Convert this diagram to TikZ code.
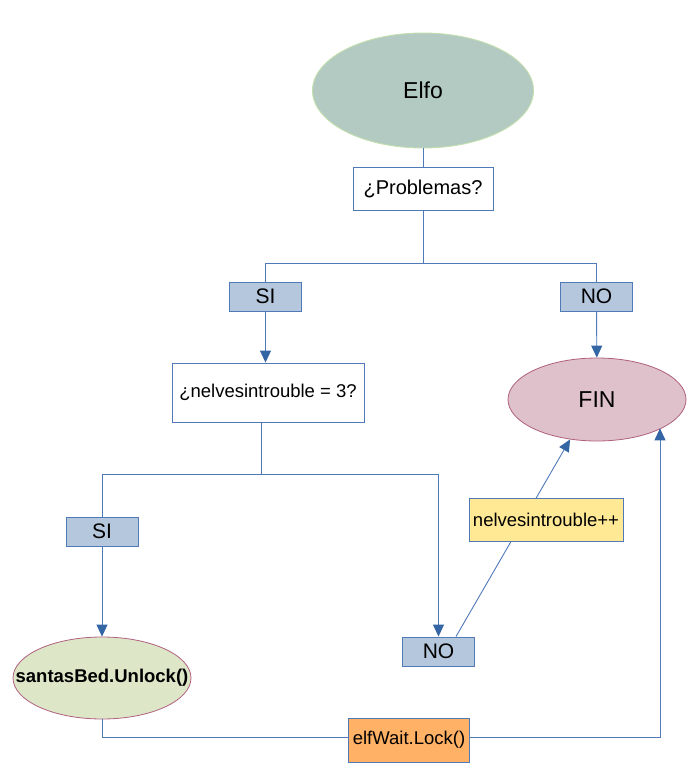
\documentclass[tikz,border=0pt]{standalone}
\usepackage{fontspec}
\setmainfont{Liberation Sans}
\usepackage{tikz}
\usetikzlibrary{arrows.meta,positioning,shapes.geometric,calc}
\usepackage{xcolor}

\definecolor{linecol}{HTML}{5079B8}
\definecolor{tipcol}{HTML}{3465A4}
\definecolor{elfofill}{HTML}{B3CAC2}
\definecolor{elfoline}{HTML}{C3DFAE}
\definecolor{finfill}{HTML}{DFC1CB}
\definecolor{finline}{HTML}{B0607F}
\definecolor{santafill}{HTML}{DDE7C8}
\definecolor{answerfill}{HTML}{B4C7DC}
\definecolor{countfill}{HTML}{FFE994}
\definecolor{lockfill}{HTML}{FFB165}

\begin{document}
\begin{tikzpicture}[
    x=1pt, y=-1pt,
    startnode/.style={ellipse, draw=elfoline, fill=elfofill, line width=0.9pt, inner sep=0pt, minimum width=221pt, minimum height=115pt, font=\fontsize{23}{26}\selectfont},
    endnode/.style={ellipse, draw=finline, fill=finfill, line width=0.8pt, inner sep=0pt, minimum width=178pt, minimum height=83pt, font=\fontsize{23}{26}\selectfont},
    actnode/.style={ellipse, draw=finline, fill=santafill, line width=0.8pt, inner sep=0pt, minimum width=178pt, minimum height=82pt, font=\fontsize{18.5}{21}\selectfont\bfseries},
    question/.style={rectangle, draw=linecol, fill=white, line width=0.9pt, inner sep=0pt, align=center},
    answer/.style={rectangle, draw=linecol, fill=answerfill, line width=0.9pt, inner sep=0pt, minimum width=72pt, minimum height=29pt, font=\fontsize{21}{24}\selectfont},
    opbox/.style={rectangle, draw=linecol, line width=0.9pt, inner sep=0pt, font=\fontsize{18.5}{21}\selectfont},
    link/.style={draw=linecol, line width=0.9pt},
    arrow/.style={link, -{Triangle[length=12pt, width=11pt, color=tipcol]}},
]
    \useasboundingbox (0,0) rectangle (700,782);

    % Start and first question
    \node[startnode] (elfo) at (423, 90.5) {Elfo};
    \node[question, minimum width=140pt, minimum height=43pt, font=\fontsize{20}{23}\selectfont] (prob) at (423, 188.5) {¿Problemas?};

    % Answers to the first question
    \node[answer] (si1) at (265.5, 296.5) {SI};
    \node[answer] (no1) at (596.5, 296.5) {NO};

    % Second question
    \node[question, minimum width=192pt, minimum height=59pt, font=\fontsize{18.5}{21}\selectfont] (cond) at (268, 392.5) {¿nelvesintrouble = 3?};

    % End
    \node[endnode] (fin) at (597, 399.5) {FIN};

    % Answers to the second question
    \node[answer] (si2) at (102, 531.5) {SI};
    \node[answer] (no2) at (438.5, 651.5) {NO};

    % Unlock (text as wide as the ellipse)
    \node[actnode] (santa) at (102, 678) {\makebox[0pt]{santasBed.Unlock()}};

    % Split points
    \coordinate (split1) at (423, 263);
    \coordinate (split2) at (261, 474);
    \coordinate (loopr) at (660, 737);

    % Connectors
    \draw[link] (elfo) -- (prob);
    \draw[link] (prob) -- (split1);
    \draw[link] (split1) -| (si1);
    \draw[link] (split1) -| (no1);
    \draw[arrow] (si1.south) -- (si1.south |- cond.north);
    \draw[arrow] (no1) -- (fin);
    \draw[link] (cond.south -| split2) -- (split2);
    \draw[link] (split2) -| (si2);
    \draw[arrow] (split2) -| (no2);
    \draw[arrow] (si2) -- (santa);
    \draw[arrow] ($(no2.north)+(17.5,0)$) -- (fin.-124);
    \draw[arrow] (santa) |- (loopr) -- (loopr |- fin.-24);

    % Boxes sitting on the connectors
    \node[opbox, fill=countfill, minimum width=154pt, minimum height=43pt] (count) at (546, 519.5) {nelvesintrouble++};
    \node[opbox, fill=lockfill, minimum width=121pt, minimum height=44pt] (lock) at (409, 740) {elfWait.Lock()};
\end{tikzpicture}
\end{document}
